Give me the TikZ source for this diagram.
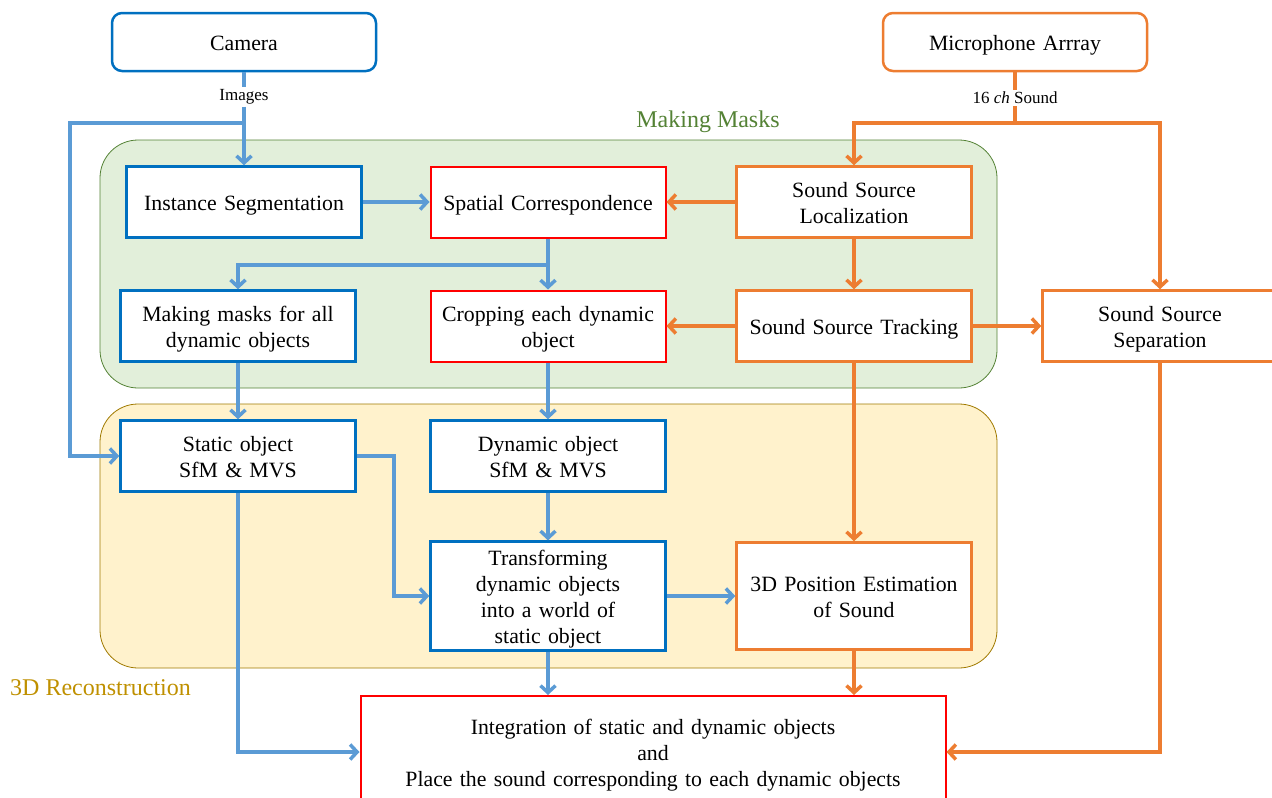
\documentclass[tikz,border=0pt]{standalone}
\usepackage{fontspec}
\setmainfont{Liberation Serif}
\usetikzlibrary{
  arrows.meta,
  positioning,
  calc
}
\definecolor{camblue}{HTML}{0070C0}
\definecolor{linkblue}{HTML}{5B9BD5}
\definecolor{micorange}{HTML}{ED7D31}
\definecolor{maskfill}{HTML}{E2EFDA}
\definecolor{maskedge}{HTML}{548235}
\definecolor{recfill}{HTML}{FFF2CC}
\definecolor{recedge}{HTML}{A07A00}
\definecolor{rectext}{HTML}{BF9000}
\tikzset{
  every node/.style={font=\fontsize{21.8}{26}\selectfont},
  % line box like the slide tool: tall first line, deep last line
  slideline/.style={align=center,text width=#1,
    execute at begin node={\rule{0pt}{1.0em}},
    execute at end node={\rule[-0.22em]{0pt}{0pt}}},
  source/.style={rounded corners=10pt,line width=2.5pt,text=black,
    minimum width=264pt,minimum height=58pt,fill=white,slideline=250pt},
  stagebox/.style={line width=2.5pt,fill=white,text=black,slideline=228pt,
    minimum width=235pt,minimum height=71pt,inner sep=2pt},
  bluebox/.style={stagebox,draw=camblue},
  orangebox/.style={stagebox,draw=micorange},
  redbox/.style={stagebox,draw=red,line width=2pt},
  region/.style={rounded corners=38pt,line width=0.8pt},
  grouptitle/.style={font=\fontsize{24}{28}\selectfont},
  chanlabel/.style={fill=white,inner sep=2pt,font=\fontsize{17}{19}\selectfont},
  bline/.style={linkblue,line width=3.5pt},
  barrow/.style={bline,-{Straight Barb[length=7pt,width=15pt]}},
  oline/.style={micorange,line width=3.5pt},
  oarrow/.style={oline,-{Straight Barb[length=7pt,width=15pt]}}
}

\begin{document}
\begin{tikzpicture}[x=1pt,y=-1pt]
\useasboundingbox (0,0) rectangle (1272,798);

% regions
\draw[region,fill=maskfill,draw=maskedge] (100,140) rectangle (997,388);
\draw[region,fill=recfill,draw=recedge] (100,404) rectangle (997,668);
\node[grouptitle,text=maskedge] (masktitle) at (708,122) {Making Masks};
\node[grouptitle,text=rectext,anchor=west,inner sep=0pt] (rectitle) at (10,688) {3D Reconstruction};

% sources
\node[source,draw=camblue] (cam) at (244,42) {Camera};
\node[source,draw=micorange] (mic) at (1015,42) {Microphone Arrray};

% stages
\node[bluebox] (inst) at (244,202) {Instance Segmentation};
\node[redbox] (spat) at (548,202) {Spatial Correspondence};
\node[orangebox] (ssl) at (854,202) {Sound Source\\Localization};
\node[bluebox] (mask) at (238,326) {Making masks for all\\dynamic objects};
\node[redbox] (crop) at (548,326) {Cropping each dynamic\\object};
\node[orangebox] (sst) at (854,326) {Sound Source Tracking};
\node[orangebox] (sep) at (1160,326) {Sound Source\\Separation};
\node[bluebox] (stat) at (238,456) {Static object\\SfM \& MVS};
\node[bluebox] (dyn) at (548,456) {Dynamic object\\SfM \& MVS};
\node[bluebox,minimum height=107pt] (trans) at (548,596) {Transforming\\dynamic objects\\into a world of\\static object};
\node[orangebox,minimum height=107pt] (pos) at (854,596) {3D Position Estimation\\of Sound};
\node[redbox,minimum width=585pt,minimum height=112pt,slideline=570pt] (integ) at (653,752) {Integration of static and dynamic objects\\and\\Place the sound corresponding to each dynamic objects};

% camera links
\node[chanlabel] (imglbl) at (244,97) {Images};
\coordinate (camjoin) at (244,123);
\draw[bline] (cam) -- (imglbl);
\draw[barrow] (imglbl) -- (inst);
\draw[barrow] (camjoin) -- ++(-174,0) |- (stat.west);
\draw[barrow] (inst) -- (spat);
\coordinate (spjoin) at (548,265);
\draw[barrow] (spat) -- (crop);
\draw[barrow] (spjoin) -| (mask);
\draw[barrow] (mask) -- (stat);
\draw[barrow] (crop) -- (dyn);
\draw[barrow] (dyn) -- (trans);
\draw[barrow] (stat.east) -- ++(37,0) |- (trans.west);
\draw[barrow] (trans) -- (pos);
\draw[barrow] (stat) |- (integ.west);
\draw[barrow] (trans) -- (trans |- integ.north);

% microphone links
\node[chanlabel] (sndlbl) at (1015,98) {16 \textit{ch} Sound};
\coordinate (micjoin) at (1015,123);
\draw[oline] (mic) -- (sndlbl);
\draw[oline] (sndlbl) -- (micjoin);
\draw[oarrow] (micjoin) -| (ssl);
\draw[oarrow] (micjoin) -| (sep);
\draw[oarrow] (ssl) -- (spat);
\draw[oarrow] (ssl) -- (sst);
\draw[oarrow] (sst) -- (crop);
\draw[oarrow] (sst) -- (sep);
\draw[oarrow] (sst) -- (pos);
\draw[oarrow] (pos) -- (pos |- integ.north);
\draw[oarrow] (sep) |- (integ.east);
\end{tikzpicture}
\end{document}
